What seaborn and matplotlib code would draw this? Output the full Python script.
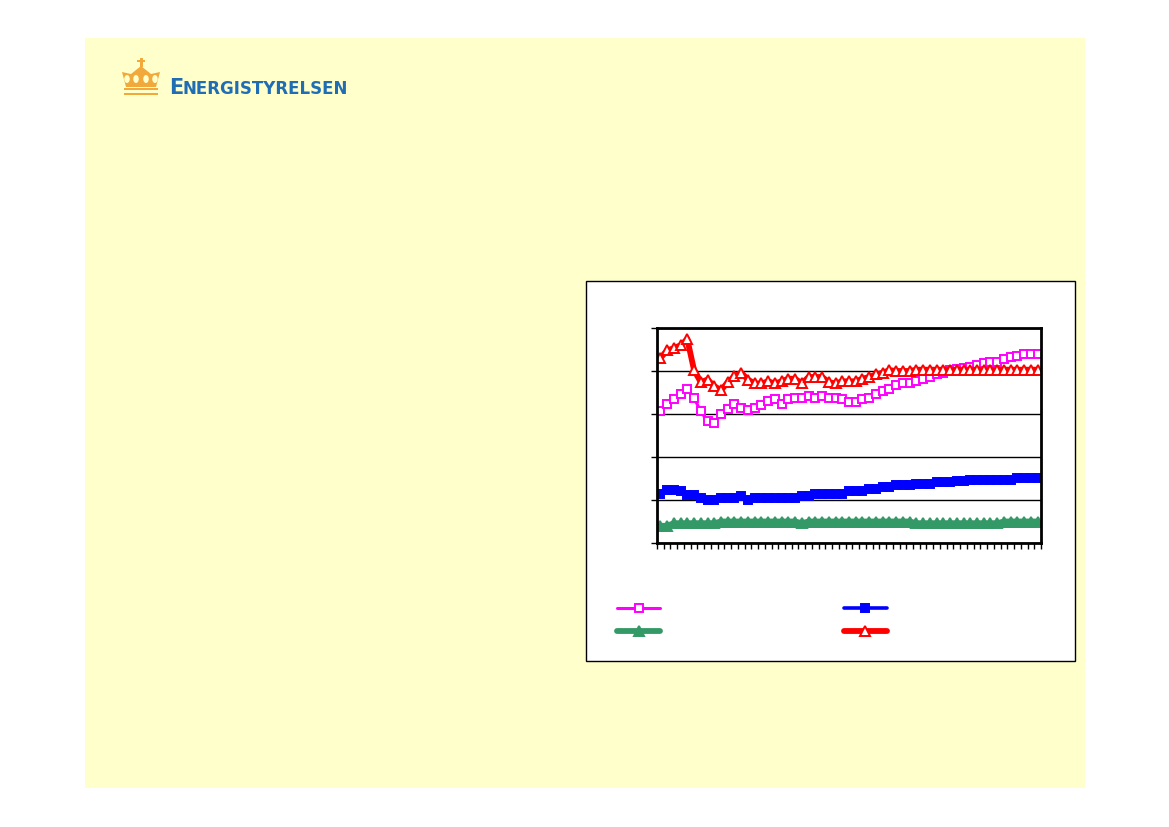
import matplotlib
matplotlib.use('Agg')
import numpy as np
import pandas as pd
import seaborn as sns
from matplotlib import pyplot as plt
from matplotlib.patches import Rectangle, Ellipse, Polygon

# series (57 periods, no labels shown)
magenta = [30.6, 32.4, 33.4, 34.7, 35.7, 33.7, 30.6, 28.3, 27.8, 30.1,
           31.1, 32.4, 31.4, 31.0, 31.5, 32.0, 33.0, 33.4, 32.4, 33.4,
           33.8, 33.8, 34.2, 33.7, 34.2, 33.8, 33.8, 33.4, 32.8, 32.8,
           33.4, 33.8, 34.7, 35.3, 35.9, 36.7, 37.1, 37.1, 37.6, 38.2,
           38.6, 39.2, 39.6, 40.3, 40.5, 40.7, 40.9, 41.5, 41.9, 42.2,
           42.2, 42.7, 43.2, 43.6, 44.0, 44.0, 44.0]
red = [43.0, 44.8, 45.3, 46.0, 47.4, 40.2, 37.4, 38.0, 36.5, 35.5,
       37.4, 38.8, 39.6, 38.0, 37.1, 37.1, 37.6, 37.1, 37.6, 38.2,
       38.2, 37.1, 38.6, 38.6, 38.6, 37.4, 37.1, 37.6, 37.6, 37.6,
       38.2, 38.6, 39.2, 39.6, 40.2, 40.0, 40.0, 40.0, 40.3, 40.3,
       40.3, 40.3, 40.3, 40.3, 40.3, 40.3, 40.3, 40.3, 40.3, 40.3,
       40.3, 40.3, 40.3, 40.3, 40.3, 40.3, 40.3]
blue = [11.5, 12.4, 12.4, 12.0, 11.1, 11.1, 10.5, 10.0, 10.0, 10.5,
        10.5, 10.5, 11.0, 10.0, 10.5, 10.5, 10.5, 10.5, 10.5, 10.5,
        10.5, 11.0, 11.0, 11.5, 11.5, 11.5, 11.5, 11.5, 12.0, 12.0,
        12.0, 12.5, 12.5, 13.0, 13.0, 13.5, 13.5, 13.5, 13.8, 13.8,
        13.8, 14.2, 14.2, 14.2, 14.5, 14.5, 14.7, 14.7, 14.7, 14.7,
        14.7, 14.7, 14.7, 15.2, 15.2, 15.2, 15.2]
green = [4.0, 4.0, 4.6, 4.6, 4.6, 4.6, 4.6, 4.6, 4.6, 5.0,
         5.0, 5.0, 5.0, 5.0, 5.0, 5.0, 5.0, 5.0, 5.0, 5.0,
         5.0, 4.6, 5.0, 5.0, 5.0, 5.0, 5.0, 5.0, 5.0, 5.0,
         5.0, 5.0, 5.0, 5.0, 5.0, 5.0, 5.0, 5.0, 4.6, 4.6,
         4.6, 4.6, 4.6, 4.6, 4.6, 4.6, 4.6, 4.6, 4.6, 4.6,
         4.6, 5.0, 5.0, 5.0, 5.0, 5.0, 5.0]
periods = np.arange(len(red))
y_ticks = [0, 10, 20, 30, 40, 50]

sns.set_style('white')
W, H = 1169, 827
fig = plt.figure(figsize=(W / 100, H / 100), dpi=100)


def fx(px):
    return px / W


def fy(py):
    return 1 - py / H


# slide background
fig.patches.append(Rectangle((fx(85), fy(788)), fx(1000), 750 / H,
                             transform=fig.transFigure, facecolor='#FFFFCC',
                             edgecolor='none', zorder=0))
# chart box
fig.patches.append(Rectangle((fx(586), fy(661)), fx(489), 380 / H,
                             transform=fig.transFigure, facecolor='white',
                             edgecolor='black', linewidth=1, zorder=1))

# crown logo (rough)
orange = '#F2A93B'
crown = [
    Rectangle((fx(124), fy(95)), fx(34), 2.5 / H, facecolor=orange),
    Rectangle((fx(124), fy(90)), fx(34), 2.5 / H, facecolor=orange),
    Polygon([(fx(126), fy(87)), (fx(156), fy(87)), (fx(160), fy(72)),
             (fx(151), fy(74)), (fx(141), fy(66)), (fx(131), fy(74)),
             (fx(122), fy(72))], closed=True, facecolor=orange),
    Rectangle((fx(139.5), fy(67)), fx(3), 9 / H, facecolor=orange),
    Rectangle((fx(137), fy(62)), fx(8), 2.5 / H, facecolor=orange),
]
for p in crown:
    p.set_transform(fig.transFigure)
    p.set_edgecolor('none')
    p.set_zorder(2)
    fig.patches.append(p)
for cx in [127, 136, 146, 155]:
    e = Ellipse((fx(cx), fy(79)), fx(5.5), 8 / H, facecolor='#FFFFCC',
                edgecolor='none', transform=fig.transFigure, zorder=3)
    fig.patches.append(e)

blue_logo = '#1F6DB4'
fig.text(fx(169), fy(94), 'E', fontsize=15, fontweight='bold',
         color=blue_logo, family='DejaVu Sans', va='baseline', ha='left')
fig.text(fx(183), fy(94), 'NERGISTYRELSEN', fontsize=12, fontweight='bold',
         color=blue_logo, family='DejaVu Sans', va='baseline', ha='left')

ax = fig.add_axes([fx(657), fy(543), fx(384), 215 / H])
ax.set_facecolor('white')
ax.set_zorder(3)

series = [
    ('', magenta, '#FF00FF', 's', 'none', 2.2, 5.5),
    ('', blue, '#0000FF', 's', '#0000FF', 2.6, 5.5),
    ('', green, '#339966', '^', '#339966', 4.2, 6.5),
    ('', red, '#FF0000', '^', 'none', 4.2, 7),
]
handles = []
for name, vals, col, mk, mfc, lw, ms in series:
    df = pd.DataFrame({'period': periods, 'value': vals})
    sns.lineplot(data=df, x='period', y='value', ax=ax, color=col,
                 linewidth=lw, marker=mk, markersize=ms,
                 markerfacecolor=mfc if mfc != 'none' else 'white',
                 markeredgecolor=col, markeredgewidth=1.4,
                 solid_capstyle='round', solid_joinstyle='round')
    handles.append(ax.lines[-1])

ax.set_xlim(-0.5, len(periods) - 0.5)
ax.set_ylim(y_ticks[0], y_ticks[-1])
ax.set_yticks(y_ticks)
ax.set_xticks(np.arange(-0.5, len(periods)))
ax.set_xticklabels([])
ax.set_yticklabels([])
ax.set_xlabel('')
ax.set_ylabel('')
ax.grid(axis='y', color='black', linewidth=1)
ax.set_axisbelow(True)
ax.tick_params(axis='both', direction='out', length=4, width=1,
               color='black', bottom=True, left=True)
for s in ax.spines.values():
    s.set_visible(True)
    s.set_color('black')
    s.set_linewidth(2)

# legend: magenta, green | blue, red
leg = fig.legend([handles[0], handles[2], handles[1], handles[3]],
                 ['', '', '', ''], loc='upper left',
                 bbox_to_anchor=(fx(617), fy(604)), ncol=2, frameon=False,
                 fontsize=8, handlelength=3.9, handletextpad=0.5,
                 columnspacing=16.0, labelspacing=1.2, borderpad=0,
                 borderaxespad=0)
leg.set_zorder(4)

fig.savefig('out.png', dpi=100)
